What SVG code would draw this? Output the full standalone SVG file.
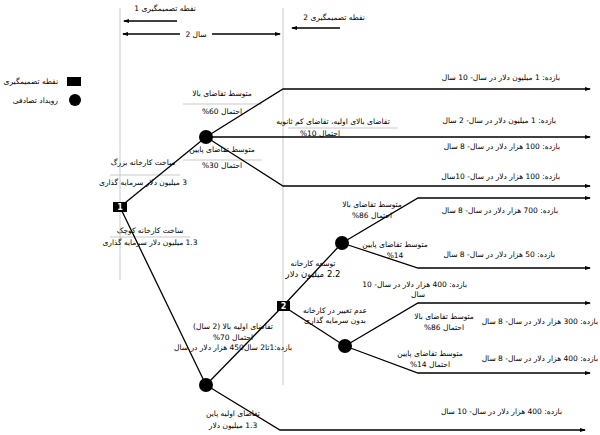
<svg xmlns="http://www.w3.org/2000/svg" width="600" height="435" viewBox="0 0 600 435">
<style>
text{font-family:"DejaVu Sans","Noto Sans",sans-serif;font-size:7.5px;fill:#000;direction:rtl;text-anchor:middle}
.e{text-anchor:start}
.p{direction:ltr}
.l{stroke:#000;stroke-width:1.3;fill:none}
.g{stroke:#bbb;stroke-width:0.8}
.a{marker-end:url(#ar)}
.nd{fill:#000}
.nt{fill:#fff;font-size:8px;font-weight:bold}
</style>
<defs><marker id="ar" markerWidth="6" markerHeight="6" refX="5" refY="3" orient="auto" markerUnits="userSpaceOnUse"><path d="M0,1 L6,3 L0,5 z" fill="#000"/></marker></defs>
<rect width="600" height="435" fill="#fff"/>
<g id="guides">
<line class="g" x1="120" y1="8" x2="120" y2="280"/>
<line class="g" x1="283" y1="8" x2="283" y2="385"/>
<line class="g" x1="183" y1="104" x2="262" y2="104"/>
<line class="g" x1="183" y1="160" x2="262" y2="160"/>
<line class="g" x1="110" y1="175" x2="180" y2="175"/>
<line class="g" x1="110" y1="237" x2="190" y2="237"/>
<line class="g" x1="288" y1="128" x2="398" y2="128"/>
<line class="l" x1="177" y1="21" x2="124" y2="21" marker-end="url(#ar)"/>
<line class="l" x1="180" y1="34" x2="123" y2="34" marker-end="url(#ar)"/>
<line class="l" x1="212" y1="34" x2="280" y2="34" marker-end="url(#ar)"/>
<line class="l" x1="340" y1="28" x2="292" y2="28" marker-end="url(#ar)"/>
<text x="165" y="11">نقطه تصمیمگیری 1</text>
<text class="p" x="196" y="37">2 سال</text>
<text x="334" y="20">نقطه تصمیمگیری 2</text>
</g>
<g id="legend">
<rect x="67" y="77" width="14" height="9" class="nd"/>
<circle cx="75" cy="100" r="6" class="nd"/>
<text class="e" x="58" y="84">نقطه تصمیمگیری</text>
<text class="e" x="58" y="103">رویداد تصادفی</text>
</g>
<g id="connectors">
<path class="l" d="M120,207 L206,137"/>
<path class="l" d="M120,207 L206,385"/>
<path class="l a" d="M206,137 L283,89 L590,89"/>
<path class="l a" d="M206,137 L590,137"/>
<path class="l a" d="M206,137 L283,186 L590,186"/>
<path class="l" d="M206,385 L283,306"/>
<path class="l a" d="M206,385 L280,430 L585,430"/>
<path class="l" d="M283,306 L342,243"/>
<path class="l" d="M283,306 L345,346"/>
<path class="l a" d="M342,243 L418,198 L590,198"/>
<path class="l a" d="M342,243 L418,268 L590,268"/>
<path class="l a" d="M345,346 L418,303 L590,303"/>
<path class="l a" d="M345,346 L418,373 L590,373"/>
</g>
<g id="n1"><rect x="113" y="202" width="14" height="10" class="nd"/><text class="nt" x="120" y="210">1</text></g>
<g id="n2"><rect x="277" y="301" width="13" height="10" class="nd"/><text class="nt" x="283.5" y="309">2</text></g>
<g id="cA"><circle cx="206" cy="137" r="7" class="nd"/></g>
<g id="cB"><circle cx="206" cy="385" r="7" class="nd"/></g>
<g id="cC"><circle cx="342" cy="243" r="7" class="nd"/></g>
<g id="cD"><circle cx="345" cy="346" r="7" class="nd"/></g>
<g id="labels">
<text x="222" y="96">متوسط تقاضای بالا</text>
<text class="p" x="222" y="114">%60 احتمال</text>
<text x="222" y="152">متوسط تقاضای پایین</text>
<text class="p" x="222" y="168">%30 احتمال</text>
<text x="143" y="165">ساخت کارخانه بزرگ</text>
<text x="143" y="185">3 میلیون دلار سرمایه گذاری</text>
<text x="150" y="233">ساخت کارخانه کوچک</text>
<text x="150" y="245">1.3 میلیون دلار سرمایه گذاری</text>
<text x="333" y="124">تقاضای بالای اولیه، تقاضای کم ثانویه</text>
<text class="p" x="320" y="136">%10 احتمال</text>
<text x="372" y="207">متوسط تقاضای بالا</text>
<text class="p" x="372" y="218">%86 احتمال</text>
<text x="395" y="247">متوسط تقاضای پایین</text>
<text class="p" x="395" y="258">%14</text>
<text x="313" y="266">توسعه کارخانه</text>
<text x="313" y="277" style="font-size:8.5px">2.2 میلیون دلار</text>
<text x="335" y="313">عدم تغییر در کارخانه</text>
<text x="335" y="323">بدون سرمایه گذاری</text>
<text x="444" y="319">متوسط تقاضای بالا</text>
<text class="p" x="444" y="330">%86 احتمال</text>
<text x="430" y="356">متوسط تقاضای پایین</text>
<text class="p" x="430" y="367">%14 احتمال</text>
<text x="233" y="329">تقاضای اولیه بالا (2 سال)</text>
<text class="p" x="233" y="340">%70 احتمال</text>
<text x="233" y="350">بازده:1تا2 سال450 هزار دلار در سال</text>
<text x="233" y="416">تقاضای اولیه پاین</text>
<text x="233" y="428">1.3 میلیون دلار</text>
</g>
<g id="payoffs">
<text class="e" x="560" y="80">بازده: 1 میلیون دلار در سال- 10 سال</text>
<text class="e" x="556" y="123">بازده: 1 میلیون دلار در سال- 2 سال</text>
<text class="e" x="560" y="149">بازده: 100 هزار دلار در سال- 8 سال</text>
<text class="e" x="560" y="179">بازده: 100 هزار دلار در سال- 10سال</text>
<text class="e" x="558" y="213">بازده: 700 هزار دلار در سال- 8 سال</text>
<text class="e" x="555" y="257">بازده: 50 هزار دلار در سال- 8 سال</text>
<text class="e" x="467" y="287">بازده: 400 هزار دلار در سال- 10</text>
<text x="418" y="297">سال</text>
<text class="e" x="598" y="324">بازده: 300 هزار دلار در سال- 8 سال</text>
<text class="e" x="598" y="361">بازده: 400 هزار دلار در سال- 8 سال</text>
<text class="e" x="562" y="414">بازده: 400 هزار دلار در سال- 10 سال</text>
</g>
</svg>
